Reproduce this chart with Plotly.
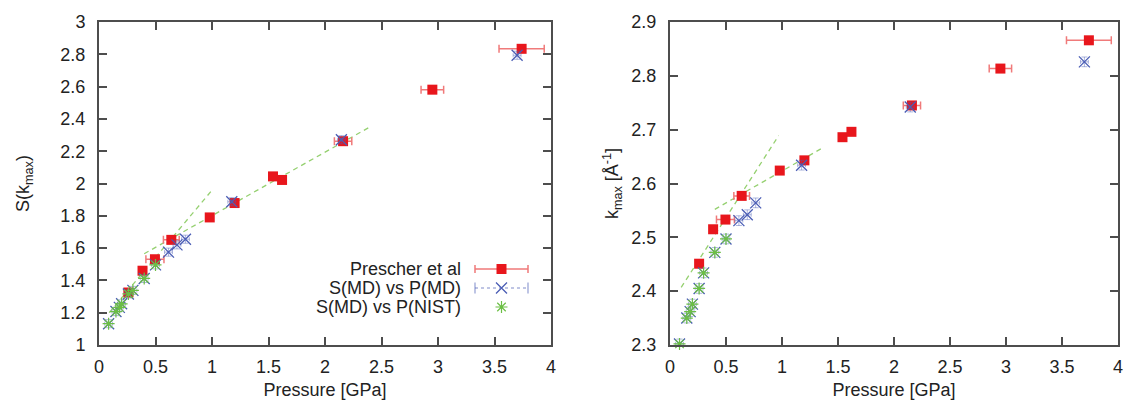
import plotly.graph_objects as go

# ---------------- data ----------------
# Prescher et al (experiment)
pres_P = [0.26, 0.385, 0.495, 0.64, 0.98, 1.20, 1.54, 1.62, 2.16, 2.95, 3.74]
pres_P_err = [0.03, 0.03, 0.08, 0.07, 0.03, 0.03, 0.03, 0.03, 0.077, 0.10, 0.20]
pres_S = [1.325, 1.46, 1.531, 1.651, 1.79, 1.879, 2.044, 2.022, 2.262, 2.581, 2.834]
pres_k = [2.451, 2.515, 2.533, 2.577, 2.624, 2.643, 2.686, 2.696, 2.745, 2.8135, 2.866]

# S(MD) vs P(MD)
md_P = [0.085, 0.15, 0.18, 0.20, 0.26, 0.30, 0.40, 0.50, 0.615, 0.69, 0.765, 1.175, 2.145, 3.70]
md_S = [1.132, 1.207, 1.233, 1.255, 1.316, 1.338, 1.412, 1.496, 1.575, 1.62, 1.655, 1.887, 2.271, 2.794]
md_k = [2.302, 2.350, 2.362, 2.376, 2.405, 2.434, 2.472, 2.497, 2.531, 2.542, 2.564, 2.634, 2.742, 2.826]
md_P_err = 0.035
md_S_err = 0.025
md_k_err = 0.009

# S(MD) vs P(NIST)
nist_P = [0.085, 0.15, 0.18, 0.20, 0.26, 0.30, 0.40, 0.50]
nist_S = [1.132, 1.207, 1.233, 1.255, 1.316, 1.338, 1.412, 1.496]
nist_k = [2.302, 2.350, 2.362, 2.376, 2.405, 2.434, 2.472, 2.497]

# linear fits (dashed)
fitA_P_left = [0.09, 0.99]
fitA_S = [1.20, 1.95]
fitB_P_left = [0.40, 2.41]
fitB_S = [1.565, 2.355]
fitA_P_right = [0.10, 0.97]
fitA_k = [2.407, 2.689]
fitB_P_right = [0.40, 1.37]
fitB_k = [2.552, 2.667]

legend_labels = ["Prescher et al", "S(MD) vs P(MD)", "S(MD) vs P(NIST)"]

# ---------------- styles ----------------
RED = "#e8161c"
RED_ERR = "#f07a7a"
BLUE = "#4a5db5"
GREEN = "#6cbf45"
FIT = "#95d070"
AXIS = "#4d4d4d"
FONT = "Liberation Sans, Arial, Helvetica, sans-serif"
FS = 18

fig = go.Figure()


def add_panel(xa, ya, P_fitA, Y_fitA, P_fitB, Y_fitB, pres_y, md_y, md_y_err, nist_y):
    for px_, py_ in ((P_fitA, Y_fitA), (P_fitB, Y_fitB)):
        fig.add_trace(go.Scatter(
            x=px_, y=py_, mode="lines", xaxis=xa, yaxis=ya, showlegend=False,
            line=dict(color=FIT, width=1.3, dash="5px,4px"), hoverinfo="skip"))
    fig.add_trace(go.Scatter(
        x=pres_P, y=pres_y, mode="markers", xaxis=xa, yaxis=ya, showlegend=False,
        marker=dict(symbol="square", size=10, color=RED),
        error_x=dict(type="data", array=pres_P_err, color=RED_ERR, thickness=1.5, width=4)))
    fig.add_trace(go.Scatter(
        x=md_P, y=md_y, mode="markers", xaxis=xa, yaxis=ya, showlegend=False,
        marker=dict(symbol="x-thin-open", size=11, color=BLUE, line=dict(color=BLUE, width=1.3)),
        error_x=dict(type="constant", value=md_P_err, color="rgba(74,93,181,0.45)", thickness=1, width=2),
        error_y=dict(type="constant", value=md_y_err, color="rgba(74,93,181,0.45)", thickness=1, width=3)))
    fig.add_trace(go.Scatter(
        x=nist_P, y=nist_y, mode="markers", xaxis=xa, yaxis=ya, showlegend=False, cliponaxis=False,
        marker=dict(symbol="asterisk-open", size=10, color=GREEN, line=dict(color=GREEN, width=1.2))))


add_panel("x", "y", fitA_P_left, fitA_S, fitB_P_left, fitB_S, pres_S, md_S, md_S_err, nist_S)
add_panel("x2", "y2", fitA_P_right, fitA_k, fitB_P_right, fitB_k, pres_k, md_k, md_k_err, nist_k)

# ---------------- layout geometry ----------------
W, H = 1128, 400
L, R, T, B = 99, 10, 22, 55
pw = W - L - R
d_left = [0, (551 - L) / pw]
d_right = [(670 - L) / pw, 1]

# ---------------- manual legend (screen-pixel overlay axes) ----------------
LEG_TEXT_X = 463
LEG_SAMPLE_X0, LEG_SAMPLE_X1 = 475, 528
LEG_ROWS_Y = [269, 288, 307]
mid = (LEG_SAMPLE_X0 + LEG_SAMPLE_X1) / 2
half = (LEG_SAMPLE_X1 - LEG_SAMPLE_X0) / 2

fig.add_trace(go.Scatter(
    x=[mid], y=[LEG_ROWS_Y[0]], mode="markers", xaxis="x3", yaxis="y3", showlegend=False,
    marker=dict(symbol="square", size=10, color=RED),
    error_x=dict(type="constant", value=half, color=RED_ERR, thickness=1.5, width=4), hoverinfo="skip"))
fig.add_trace(go.Scatter(
    x=[LEG_SAMPLE_X0, LEG_SAMPLE_X1], y=[LEG_ROWS_Y[1]] * 2, mode="lines", xaxis="x3", yaxis="y3",
    showlegend=False, line=dict(color="rgba(74,93,181,0.7)", width=1.2, dash="3px,3px"), hoverinfo="skip"))
fig.add_trace(go.Scatter(
    x=[LEG_SAMPLE_X0, LEG_SAMPLE_X1], y=[LEG_ROWS_Y[1]] * 2, mode="markers", xaxis="x3", yaxis="y3",
    showlegend=False, marker=dict(symbol="line-ns-open", size=8, color="rgba(74,93,181,0.6)",
                                  line=dict(color="rgba(74,93,181,0.6)", width=1.2)), hoverinfo="skip"))
fig.add_trace(go.Scatter(
    x=[mid], y=[LEG_ROWS_Y[1]], mode="markers", xaxis="x3", yaxis="y3", showlegend=False,
    marker=dict(symbol="x-thin-open", size=11, color=BLUE, line=dict(color=BLUE, width=1.3)), hoverinfo="skip"))
fig.add_trace(go.Scatter(
    x=[mid], y=[LEG_ROWS_Y[2]], mode="markers", xaxis="x3", yaxis="y3", showlegend=False,
    marker=dict(symbol="asterisk-open", size=10, color=GREEN, line=dict(color=GREEN, width=1.2)),
    hoverinfo="skip"))

annotations = []
for lbl, yy in zip(legend_labels, LEG_ROWS_Y):
    annotations.append(dict(x=LEG_TEXT_X, y=yy, xref="x3", yref="y3", text=lbl, showarrow=False,
                            xanchor="right", yanchor="middle",
                            font=dict(family=FONT, size=FS, color="#222")))


def axis_common():
    return dict(showline=True, linecolor=AXIS, linewidth=2, mirror="ticks", ticks="inside",
                ticklen=8, tickwidth=2, tickcolor=AXIS, showgrid=False, zeroline=False,
                ticklabeloverflow="allow", automargin=False,
                tickfont=dict(family=FONT, size=FS, color="#222"),
                title_font=dict(family=FONT, size=FS, color="#222"))


fig.update_layout(
    width=W, height=H, margin=dict(l=L, r=R, t=T, b=B),
    paper_bgcolor="white", plot_bgcolor="rgba(0,0,0,0)",
    font=dict(family=FONT, size=FS, color="#222"),
    showlegend=False,
    xaxis=dict(**axis_common(), domain=d_left, range=[0, 4], dtick=0.5, tick0=0, anchor="y",
               title=dict(text="Pressure [GPa]", standoff=10), ticklabelstandoff=4),
    yaxis=dict(**axis_common(), range=[1, 3], dtick=0.2, tick0=1, anchor="x",
               title=dict(text="S(k<sub>max</sub>)", standoff=26), ticklabelstandoff=8),
    xaxis2=dict(**axis_common(), domain=d_right, range=[0, 4], dtick=0.5, tick0=0, anchor="y2",
                title=dict(text="Pressure [GPa]", standoff=10), ticklabelstandoff=4),
    yaxis2=dict(**axis_common(), range=[2.3, 2.9], dtick=0.1, tick0=2.3, anchor="x2",
                title=dict(text="k<sub>max</sub> [Å<sup>-1</sup>]", standoff=8), ticklabelstandoff=8),
    xaxis3=dict(domain=[0, 1], range=[L, W - R], visible=False, anchor="y3", fixedrange=True),
    yaxis3=dict(domain=[0, 1], range=[H - B, T], visible=False, anchor="x3", fixedrange=True),
    annotations=annotations,
)

fig.write_html("out.html", config={"displayModeBar": False},
               post_script="document.body.style.margin='0';document.body.style.overflow='hidden';")
